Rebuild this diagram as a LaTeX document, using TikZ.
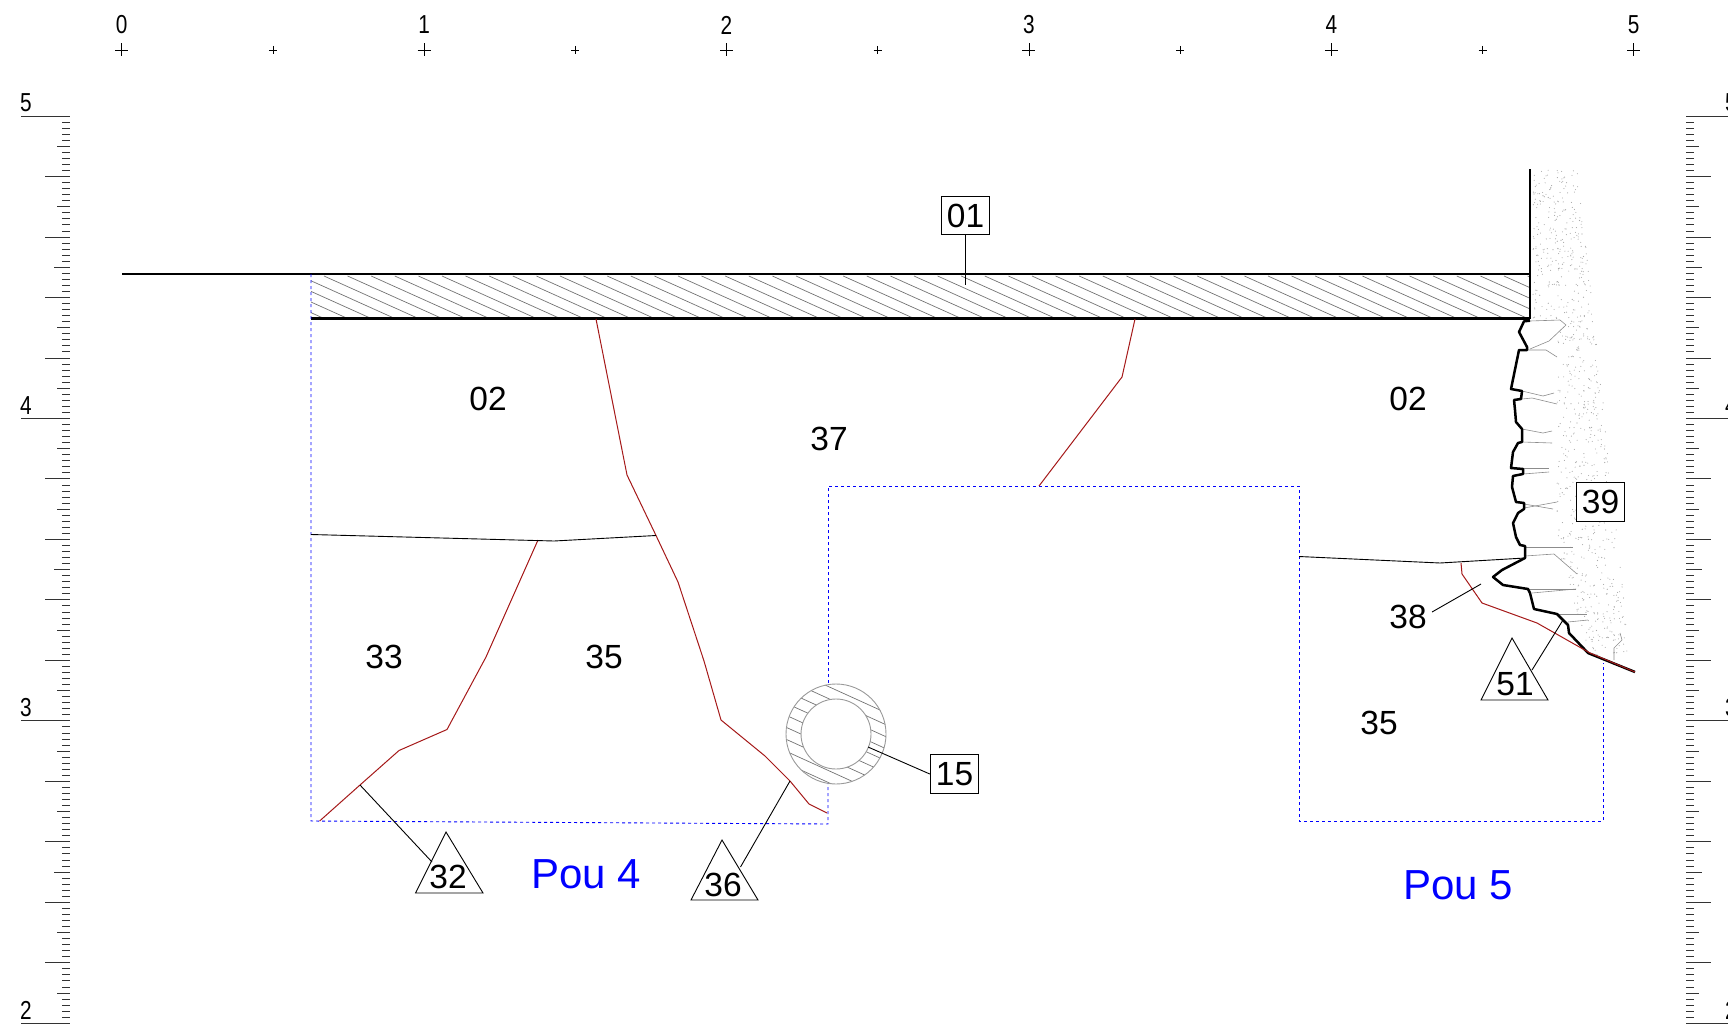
\documentclass[tikz,border=0pt]{standalone}
\usepackage{fontspec}
\setmainfont{Liberation Sans}
\definecolor{redline}{RGB}{165,25,25}
\definecolor{stone}{gray}{0.55}
\tikzset{
  lab/.style={inner sep=0pt,font=\fontsize{33.5}{36}\selectfont,text=black},
  boxlab/.style={lab,draw=black,line width=0.9pt,fill=white,minimum width=48.5pt,minimum height=38.5pt},
  pou/.style={inner sep=0pt,font=\fontsize{42}{45}\selectfont,text=blue},
  rul/.style={inner sep=0pt,font=\fontsize{26}{28}\selectfont,xscale=.8},
  tick/.style={line width=.8pt,black!80},
  cross/.style={line width=.8pt,black},
  redl/.style={draw=redline,line width=1pt},
  thinb/.style={draw=black,line width=.9pt},
  blued/.style={draw=blue,line width=.9pt,dash pattern=on 3pt off 3pt},
  thickb/.style={draw=black,line width=2.5pt,line join=round},
  stoneL/.style={draw=stone,line width=.6pt},
  hatchl/.style={draw=black!55,line width=.7pt},
  tri/.style={draw=black,line width=.9pt,line join=miter}
}
\begin{document}
\begin{tikzpicture}[x=1pt,y=-1pt]
\useasboundingbox (0,0) rectangle (1728,1025);
% top ruler
\foreach \i in {0,...,5}{
  \pgfmathsetmacro\xx{121.7+302.4*\i}
  \node[rul] (top\i) at (\xx,25) {\i};
  \draw[cross] (\xx-6.5,50)--(\xx+6.5,50) (\xx,43.5)--(\xx,56.5);
}
\foreach \i in {0,...,4}{
  \pgfmathsetmacro\xx{121.7+151.2+302.4*\i}
  \draw[cross] (\xx-4,50)--(\xx+4,50) (\xx,46)--(\xx,54);
}
% side rulers
\foreach \i in {0,...,150}{
  \pgfmathsetmacro\yy{116+6.048*\i}
  \pgfmathtruncatemacro\ma{mod(\i,50)}
  \pgfmathtruncatemacro\mb{mod(\i,25)}
  \pgfmathtruncatemacro\mc{mod(\i,10)}
  \pgfmathtruncatemacro\md{mod(\i,5)}
  \pgfmathsetmacro\xl{\ma==0?21:(\mb==0?54:(\mc==0?45:(\md==0?57:62)))}
  \pgfmathsetmacro\xr{\ma==0?1728:(\mb==0?1701.7:(\mc==0?1710.7:(\md==0?1698.7:1694)))}
  \draw[tick] (\xl,\yy)--(70,\yy) (1686,\yy)--(\xr,\yy);
}
\foreach \v/\yy in {5/103,4/405.4,3/707.8,2/1010.2}{
  \node[rul] (l\v) at (26,\yy) {\v};
  \node[rul] (r\v) at (1731,\yy) {\v};
}
% stipple
\pgfmathsetseed{4242}
\foreach \n in {1,...,800}{
  \pgfmathsetmacro\py{170+485*rnd}
  \pgfmathsetmacro\pl{\py<320?1533:(\py<545?1557:1557+(\py-545)*.3)}
  \pgfmathsetmacro\pr{1578+(\py-170)*.108}
  \pgfmathsetmacro\px{\pl+(\pr-\pl)*rnd}
  \fill[black!35] (\px,\py) circle (.55pt);
}
% slab hatch
\begin{scope}
  \clip (311,274) rectangle (1530,318);
  \foreach \k in {0,...,56}{
    \pgfmathsetmacro\xs{324+23.6*(\k-5)}
    \draw[hatchl] (\xs,276)--(\xs+105,323.25);
  }
\end{scope}
\draw[line width=1.4pt,black] (122,274)--(1530,274);
\draw[line width=2.2pt,black] (311,318.5)--(1530,318.5);
\draw[line width=2.4pt,black] (1530,169)--(1530,319);
% pit outlines
\draw[blued] (311,274)--(311,821)--(828,824)--(828,783);
\draw[blued] (828,683)--(828,486)--(1299,486)--(1299,821)--(1603,821)--(1603,663);
% pipe
\coordinate (pc) at (836,734);
\begin{scope}[even odd rule]
  \clip (pc) circle (50pt) (pc) circle (35pt);
  \foreach \k in {-2,...,18}{
    \pgfmathsetmacro\cc{660-13.7+12*\k}
    \draw[draw=black!55,line width=.7pt] (740,\cc)--(940,\cc+91);
  }
\end{scope}
\draw[draw=black!40,line width=.9pt,fill=none] (pc) circle (50pt) (pc) circle (35pt);
% red lines
\draw[redl] (596,319)--(627,475)--(656,535.5)--(678,582)--(704,661)--(721,720)--(765,756)--(790,781)--(809,804)--(827,813);
\draw[redl] (538,540)--(486,657)--(447,729.5)--(399,750.5)--(360,785)--(319.6,821);
\draw[redl] (1135,319)--(1122,377)--(1039,486);
% black layer lines
\draw[thinb] (311,534.5)--(554,541)--(656,535.5);
\draw[thinb] (1299,556.5)--(1440,563)--(1525,558);
% stones
\draw[stoneL] (1530,321)--(1560,320)--(1566,325)--(1549,341)--(1530,349);
\draw[stoneL] (1527,350)--(1546,350)--(1557,357);
\draw[stoneL] (1522,391)--(1543,396)--(1554,393);
\draw[stoneL] (1522,399)--(1532,398)--(1557,404);
\draw[stoneL] (1522,429)--(1543,433)--(1552,431);
\draw[stoneL] (1522,442)--(1552,443);
\draw[stoneL] (1523,468)--(1549,468);
\draw[stoneL] (1523,474)--(1549,472);
\draw[stoneL] (1524,508)--(1557,502);
\draw[stoneL] (1524,504)--(1553,509);
\draw[stoneL] (1525,547)--(1573,547);
\draw[stoneL] (1525,556)--(1554,554)--(1577,574);
\draw[stoneL] (1530,589)--(1576,589);
\draw[stoneL] (1532,593)--(1576,589);
\draw[stoneL] (1557,614)--(1587,614);
\draw[stoneL] (1568,622)--(1588,620);
\draw[stoneL] (1614,660)--(1614,648)--(1622,640)--(1620,633);
% wall face
\draw[thickb] (1530,320.7)--(1524,321.3)--(1519,332)--(1527,347)--(1527,350)--(1519,350)--(1511,389)--(1522,391)--(1521,399)--(1514,400)--(1515,410)--(1516,422)--(1522,429)--(1522,442)--(1518,443)--(1513,452)--(1511,468)--(1523,469)--(1523,474)--(1513,476)--(1512,487)--(1516,502)--(1524,503)--(1524,509)--(1518,513)--(1513,523)--(1516,537)--(1520,545)--(1525,546)--(1525,558)--(1502,570)--(1493,577)--(1503,585)--(1528,589)--(1530,593)--(1534,609)--(1557,614)--(1568,625)--(1569,633)--(1588,653)--(1635,672);
\draw[redl] (1461,563)--(1462,574)--(1482,603)--(1537,623)--(1590,653)--(1635,672);
% labels
\node[lab] (t02a) at (488,399) {02};
\node[lab] (t37) at (829,439) {37};
\node[lab] (t02b) at (1408,399) {02};
\node[lab] (t33) at (384,657) {33};
\node[lab] (t35a) at (604,657) {35};
\node[lab] (t35b) at (1379,723) {35};
\node[lab] (t38) at (1408,617) {38};
\node[boxlab] (b01) at (965.5,215.5) {\raisebox{-.5pt}{01}};
\node[boxlab] (b39) at (1600.5,502) {\raisebox{-.5pt}{39}};
\node[boxlab] (b15) at (954.5,774) {\raisebox{-.5pt}{15}};
\node[pou] (p4) at (586,874) {Pou 4};
\node[pou] (p5) at (1458,885) {Pou 5};
% triangles
\draw[tri] (446,832)--(415.5,893)--(483,893)--cycle;
\draw[tri] (722,840)--(691,900)--(758,900)--cycle;
\draw[tri] (1512,638)--(1481,700)--(1548,700)--cycle;
\node[lab] (t32) at (448,877) {32};
\node[lab] (t36) at (723,885) {36};
\node[lab] (t51) at (1515,684) {51};
% leaders
\coordinate (e01) at (965.5,285);
\coordinate (e15) at (868,747);
\coordinate (e38a) at (1432,612);
\coordinate (e38) at (1481,584);
\coordinate (e32a) at (432,862);
\coordinate (e32) at (360,785);
\coordinate (e36a) at (740.5,867);
\coordinate (e36) at (790,781);
\coordinate (e51a) at (1532,670);
\coordinate (e51) at (1563,620);
\draw[thinb] (b01.south)--(e01);
\draw[thinb] (b15.west)--(e15);
\draw[thinb] (e38a)--(e38);
\draw[thinb] (e32a)--(e32);
\draw[thinb] (e36a)--(e36);
\draw[thinb] (e51a)--(e51);
\end{tikzpicture}
\end{document}
